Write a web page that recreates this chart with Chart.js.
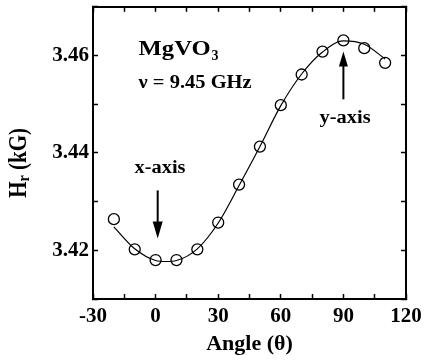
<!DOCTYPE html>
<html><head><meta charset="utf-8">
<script src="https://cdn.jsdelivr.net/npm/chart.js@4.4.1/dist/chart.umd.min.js"></script>
<style>html,body{margin:0;padding:0;background:#fff;}canvas{display:block;}</style>
</head><body>
<canvas id="c" width="424" height="360"></canvas>
<script>
// ---- data ----
const angles   = [-20, -10, 0, 10, 20, 30, 40, 50, 60, 70, 80, 90, 100, 110];
const hrValues = [3.4264, 3.4202, 3.4180, 3.4180, 3.4202, 3.4257, 3.4335, 3.4413, 3.4498, 3.4561, 3.4608, 3.4631, 3.4615, 3.4585];
const fitAngles = [-20, -10, 0, 5, 10, 20, 30, 40, 50, 60, 70, 80, 90, 100, 110];
const fitValues = [3.4248, 3.4203, 3.4179, 3.4177, 3.4179, 3.4203, 3.4256, 3.4333, 3.4413, 3.4497, 3.4562, 3.4607, 3.4630, 3.4623, 3.4593];
const xTickLabels = ['-30', '0', '30', '60', '90', '120'];
const yTickLabels = ['3.42', '3.44', '3.46'];
const xRange = [-30, 120];
const yRange = [3.41, 3.47];
const xTitle = 'Angle (\u03B8)';
const sampleName = ['MgVO', '3'];
const freqText = '\u03BD = 9.45 GHz';
const xArrow = {at: 1, from: 3.4323, to: 3.4224, label: 'x-axis', labelX: 2.1, labelY: 3.4359};
const yArrow = {at: 90, from: 3.4510, to: 3.4608, label: 'y-axis', labelX: 90.8, labelY: 3.4461};
const namePos = {x: -8.15, y: 3.4601};
const freqPos = {x: -8.15, y: 3.4534};

const FONT = '"Liberation Serif", "Times New Roman", serif';

const fitData = fitAngles.map((a, i) => ({x: a, y: fitValues[i]}));
const pointData = angles.map((a, i) => ({x: a, y: hrValues[i]}));

function drawStretched(ctx, text, font, left, base, targetW) {
  ctx.font = font;
  const w = ctx.measureText(text).width;
  const s = targetW ? targetW / w : 1;
  ctx.save();
  ctx.translate(left, base);
  ctx.scale(s, 1);
  ctx.textAlign = 'left';
  ctx.textBaseline = 'alphabetic';
  ctx.fillText(text, 0, 0);
  ctx.restore();
}

function drawArrow(ctx, x, y0, y1, headLen, headW) {
  const dir = y1 > y0 ? 1 : -1;
  ctx.beginPath();
  ctx.lineWidth = 2;
  ctx.moveTo(x, y0);
  ctx.lineTo(x, y1 - dir * headLen + dir);
  ctx.stroke();
  ctx.beginPath();
  ctx.moveTo(x, y1);
  ctx.lineTo(x - headW / 2, y1 - dir * headLen);
  ctx.lineTo(x + headW / 2, y1 - dir * headLen);
  ctx.closePath();
  ctx.fill();
}

const annotPlugin = {
  id: 'annot',
  afterDatasetsDraw(chart) {
    const {ctx, scales: {x, y}, chartArea} = chart;
    const px = v => x.getPixelForValue(v), py = v => y.getPixelForValue(v);
    ctx.save();
    ctx.fillStyle = '#000';
    ctx.strokeStyle = '#000';
    // sample name with subscript
    drawStretched(ctx, sampleName[0], 'bold 21px ' + FONT, px(namePos.x), py(namePos.y), 72);
    drawStretched(ctx, sampleName[1], 'bold 14px ' + FONT, px(namePos.x) + 73, py(namePos.y) + 5, 0);
    drawStretched(ctx, freqText, 'bold 18px ' + FONT, px(freqPos.x), py(freqPos.y), 113);
    // arrows & labels
    drawArrow(ctx, px(xArrow.at), py(xArrow.from), py(xArrow.to), 17, 10);
    drawArrow(ctx, px(yArrow.at), py(yArrow.from), py(yArrow.to), 15, 9);
    drawStretched(ctx, xArrow.label, 'bold 18px ' + FONT, px(xArrow.labelX) - 25.5, py(xArrow.labelY), 51);
    drawStretched(ctx, yArrow.label, 'bold 18px ' + FONT, px(yArrow.labelX) - 25.5, py(yArrow.labelY), 51);
    ctx.restore();

    // y axis title  H_r (kG), rotated
    const parts = [
      {t: 'H', f: 'bold 21px ' + FONT, dy: 0},
      {t: 'r', f: 'bold 14px ' + FONT, dy: 2.5},
      {t: ' (kG)', f: 'bold 21px ' + FONT, dy: 0}
    ];
    let W = 0;
    parts.forEach(p => { ctx.font = p.f; p.w = ctx.measureText(p.t).width; W += p.w; });
    const cy = (chartArea.top + chartArea.bottom) / 2 + 10;
    ctx.save();
    ctx.fillStyle = '#000';
    ctx.translate(26, cy);
    ctx.rotate(-Math.PI / 2);
    ctx.scale(1, 1.2);
    ctx.textAlign = 'left';
    ctx.textBaseline = 'alphabetic';
    let cx = -W / 2;
    parts.forEach(p => { ctx.font = p.f; ctx.fillText(p.t, cx, p.dy); cx += p.w; });
    ctx.restore();
  }
};

function noPad(s) { s.paddingTop = 0; s.paddingBottom = 0; s.paddingLeft = 0; s.paddingRight = 0; }

const tickFont = {family: FONT, size: 21, weight: 'bold'};
const axisBorder = {display: true, color: '#000', width: 2};
const gridCommon = {drawOnChartArea: false, drawTicks: true, tickLength: -5, tickWidth: 1.5, tickColor: '#000'};

new Chart(document.getElementById('c'), {
  type: 'scatter',
  data: {
    datasets: [
      {
        type: 'line',
        data: fitData,
        borderColor: '#000',
        borderWidth: 1.2,
        pointRadius: 0,
        fill: false,
        cubicInterpolationMode: 'monotone',
        xAxisID: 'x', yAxisID: 'y'
      },
      {
        data: pointData,
        pointStyle: 'circle',
        pointRadius: 5.5,
        pointBorderWidth: 1.3,
        pointBorderColor: '#000',
        pointBackgroundColor: 'rgba(0,0,0,0)',
        borderColor: '#000',
        backgroundColor: 'rgba(0,0,0,0)',
        showLine: false,
        xAxisID: 'x', yAxisID: 'y'
      }
    ]
  },
  options: {
    responsive: false,
    animation: false,
    devicePixelRatio: 1,
    layout: {padding: {left: 0, right: 18, top: 6, bottom: 0}},
    plugins: {legend: {display: false}, tooltip: {enabled: false}},
    scales: {
      x: {
        type: 'linear', position: 'bottom',
        min: xRange[0], max: xRange[1],
        border: axisBorder,
        grid: gridCommon,
        ticks: {
          stepSize: 15, padding: 10, color: '#000', font: tickFont, maxRotation: 0, autoSkip: false,
          callback: v => xTickLabels.includes(String(v)) ? String(v) : ''
        },
        title: {display: true, text: xTitle, color: '#000', font: {family: FONT, size: 22, weight: 'bold'}, padding: {top: 0, bottom: 2}},
        afterFit: s => { s.height = 61; noPad(s); }
      },
      y: {
        type: 'linear', position: 'left',
        min: yRange[0], max: yRange[1],
        border: axisBorder,
        grid: gridCommon,
        ticks: {
          stepSize: 0.01, padding: 9, color: '#000', font: tickFont, autoSkip: false,
          callback: v => { const s = Number(v).toFixed(2); return yTickLabels.includes(s) ? s : ''; }
        },
        afterFit: s => { s.width = 93; noPad(s); }
      },
      x2: {
        type: 'linear', position: 'top',
        min: xRange[0], max: xRange[1],
        border: axisBorder,
        grid: gridCommon,
        ticks: {stepSize: 15, display: false},
        afterFit: s => { s.height = 0; noPad(s); }
      },
      y2: {
        type: 'linear', position: 'right',
        min: yRange[0], max: yRange[1],
        border: axisBorder,
        grid: gridCommon,
        ticks: {stepSize: 0.01, display: false},
        afterFit: s => { s.width = 0; noPad(s); }
      }
    }
  },
  plugins: [annotPlugin]
});
</script>
</body></html>
